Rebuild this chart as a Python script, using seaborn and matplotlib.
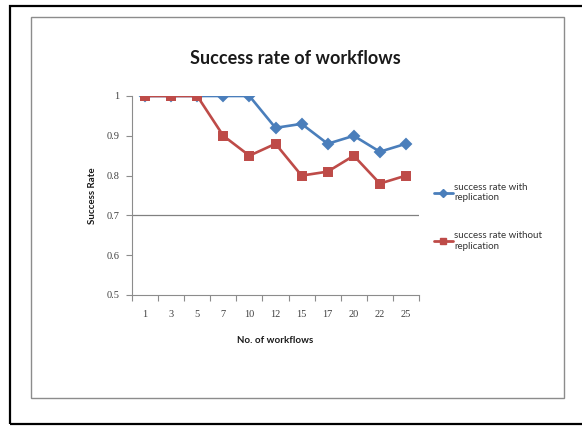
import matplotlib
matplotlib.use("Agg")
import matplotlib.pyplot as plt
import seaborn as sns
import pandas as pd
from matplotlib.patches import Rectangle
from matplotlib.lines import Line2D

workflows = ["1", "3", "5", "7", "10", "12", "15", "17", "20", "22", "25"]
with_replication = [1.0, 1.0, 1.0, 1.0, 1.0, 0.92, 0.93, 0.88, 0.90, 0.86, 0.88]
without_replication = [1.0, 1.0, 1.0, 0.90, 0.85, 0.88, 0.80, 0.81, 0.85, 0.78, 0.80]
series_names = ["success rate with\nreplication", "success rate without\nreplication"]
yticks = [0.5, 0.6, 0.7, 0.8, 0.9, 1.0]
ytick_labels = ["0.5", "0.6", "0.7", "0.8", "0.9", "1"]

df = pd.concat([
    pd.DataFrame({"workflows": workflows, "rate": with_replication, "series": series_names[0]}),
    pd.DataFrame({"workflows": workflows, "rate": without_replication, "series": series_names[1]}),
])

sns.set_theme(style="white")
plt.rcParams["font.family"] = ["Lato", "DejaVu Sans"]

W, H = 582, 426
fig = plt.figure(figsize=(W / 100, H / 100), dpi=100)
fig.patch.set_facecolor("white")

ax = fig.add_axes([132 / W, 1 - 295 / H, (419 - 132) / W, (295 - 96) / H])
colors = ["#4A7EBB", "#BE4B48"]
sns.pointplot(data=df, x="workflows", y="rate", hue="series", order=workflows,
              hue_order=series_names, palette=colors, markers=["D", "s"],
              linestyles=["-", "-"], markersize=5.5, linewidth=1.9, ax=ax, legend=False)
for ln in ax.lines:
    if ln.get_marker() == "D":
        ln.set_markersize(4.8)
    elif ln.get_marker() == "s":
        ln.set_markersize(6)

ax.set_ylim(0.5, 1.0)
ax.set_xlim(-0.5, len(workflows) - 0.5)
ax.set_yticks(yticks)
ax.set_yticklabels(ytick_labels, family="Liberation Serif", fontsize=7.5, color="#404040")
ax.set_xticks(range(len(workflows)))
ax.set_xticklabels(workflows, family="Liberation Serif", fontsize=7.5, color="#404040")
ax.set_xticks([i - 0.5 for i in range(len(workflows) + 1)], minor=True)
ax.tick_params(axis="x", which="major", length=0, pad=11)
ax.tick_params(axis="x", which="minor", length=4, direction="out", color="#8c8c8c", width=0.8, bottom=True)
ax.tick_params(axis="y", length=4, direction="out", color="#8c8c8c", width=0.8, left=True, pad=5)
ax.axhline(0.7, color="#808080", lw=0.9, zorder=0)

for s in ["top", "right"]:
    ax.spines[s].set_visible(False)
for s in ["left", "bottom"]:
    ax.spines[s].set_color("#8c8c8c")
    ax.spines[s].set_linewidth(0.8)

ax.set_xlabel("No. of workflows", fontsize=7, fontweight="bold", labelpad=12, color="#1a1a1a")
ax.set_ylabel("Success Rate", fontsize=7, fontweight="bold", labelpad=7, color="#1a1a1a")

fig.text(295 / W, 1 - 58 / H, "Success rate of workflows", ha="center", va="center",
         fontsize=13, fontweight="bold", color="#1a1a1a")

handles = [Line2D([], [], color=colors[0], marker="D", markersize=4, lw=2),
           Line2D([], [], color=colors[1], marker="s", markersize=4.5, lw=2)]
fig.legend(handles, series_names, loc="upper left", bbox_to_anchor=(425 / W, 1 - 174 / H),
           frameon=False, fontsize=7, handlelength=2.0, handletextpad=0.1,
           labelspacing=3.0, labelcolor="#333333")

fig.add_artist(Rectangle((31 / W, 1 - 398 / H), (564 - 31) / W, (398 - 17) / H,
                         transform=fig.transFigure, fill=False, ec="#8c8c8c", lw=1))
fig.add_artist(Rectangle((10 / W, 1 - 424 / H), (600 - 10) / W, (424 - 6) / H,
                         transform=fig.transFigure, fill=False, ec="black", lw=1.6, clip_on=False))

fig.savefig("out.png", dpi=100)
